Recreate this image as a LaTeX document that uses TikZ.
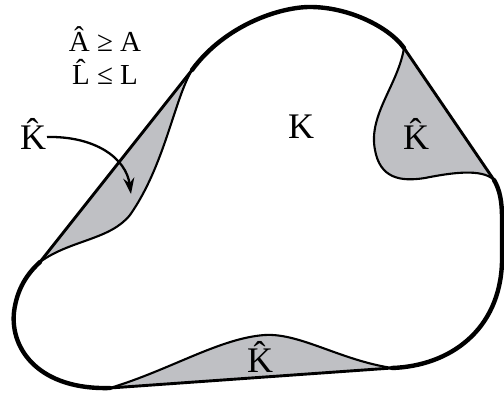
\documentclass[tikz,border=0pt]{standalone}
\usepackage{fontspec}
\setmainfont{Liberation Serif}
\usetikzlibrary{arrows.meta}
\definecolor{hullgray}{RGB}{191,192,196}
\tikzset{
  pocket/.style={fill=hullgray},
  shared/.style={line width=4.4pt, line cap=round, line join=round},
  hullline/.style={line width=2.9pt, line cap=round},
  kcurve/.style={line width=2.1pt, line cap=round},
  biglabel/.style={font=\fontsize{36}{40}\selectfont, inner sep=0pt, anchor=base},
  formula/.style={font=\fontsize{29}{32}\selectfont, inner sep=0pt, anchor=base},
  pointer/.style={line width=2.3pt, -{Stealth[length=16pt,width=11pt]}}
}
\begin{document}
\begin{tikzpicture}[x=1pt,y=-1pt]
\useasboundingbox (0,0) rectangle (504,395);
% key points
\coordinate (lt) at (192,70);
\coordinate (rt) at (404,48);
\coordinate (rb) at (494,180);
\coordinate (bb) at (392,368);
\coordinate (bl) at (110,388);
\coordinate (lb) at (40,262);
% pockets
\fill[pocket] (lt) .. controls (174,100) and (165,165) .. (130,215)
  .. controls (110,240) and (70,240) .. (lb) -- cycle;
\fill[pocket] (rt) .. controls (398,85) and (368,115) .. (375,150)
  .. controls (380,178) and (400,182) .. (425,178)
  .. controls (450,173) and (482,168) .. (rb) -- cycle;
\fill[pocket] (bb) .. controls (340,360) and (300,333) .. (265,335)
  .. controls (220,338) and (170,370) .. (bl) -- cycle;
% hull straight lines
\draw[hullline] (lb) -- (lt);
\draw[hullline] (rt) -- (rb);
\draw[hullline] (bb) -- (bl);
% K-only curves
\draw[kcurve] (lt) .. controls (174,100) and (165,165) .. (130,215)
  .. controls (110,240) and (70,240) .. (lb);
\draw[kcurve] (rt) .. controls (398,85) and (368,115) .. (375,150)
  .. controls (380,178) and (400,182) .. (425,178)
  .. controls (450,173) and (482,168) .. (rb);
\draw[kcurve] (bb) .. controls (340,360) and (300,333) .. (265,335)
  .. controls (220,338) and (170,370) .. (bl);
% shared boundary
\draw[shared] (lt) .. controls (225,25) and (280,7) .. (310,7)
  .. controls (350,7) and (390,28) .. (rt);
\draw[shared] (rb) .. controls (500,190) and (502,202) .. (502,218)
  -- (502,262) .. controls (500,330) and (450,366) .. (bb);
\draw[shared] (bl) .. controls (40,390) and (10,350) .. (14,312)
  .. controls (17,288) and (28,273) .. (lb);
% labels
\node[formula] (f1) at (105,52) {Â ≥ A};
\node[formula] (f2) at (105,85) {L̂ ≤ L};
\node[biglabel] (kl) at (33,150) {K̂};
\node[biglabel] (kc) at (301,139) {K};
\node[biglabel] (kr) at (416,150) {K̂};
\node[biglabel] (kb) at (260,373) {K̂};
\coordinate (ks) at (47,137);
\coordinate (tip) at (131,194);
\draw[pointer] (ks) .. controls (95,136) and (126,158) .. (tip);
\end{tikzpicture}
\end{document}
